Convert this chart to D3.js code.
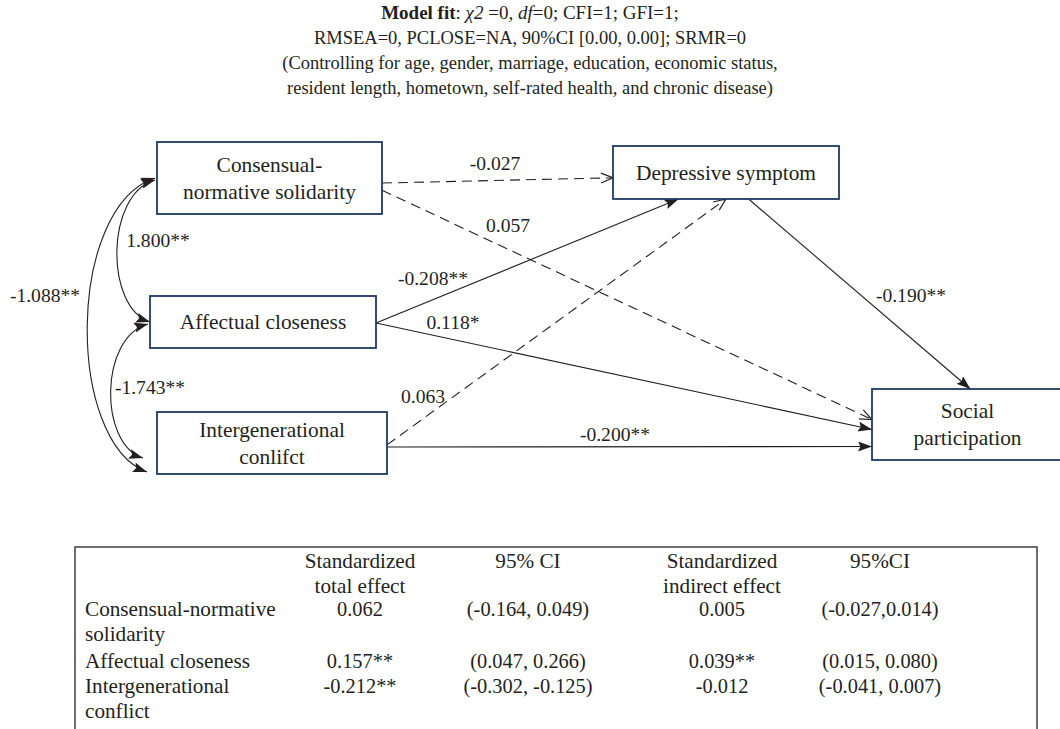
<!DOCTYPE html>
<html><head><meta charset="utf-8">
<script src="https://cdn.jsdelivr.net/npm/d3@7"></script>
<style>body{margin:0;background:#fff;overflow:hidden}</style>
</head><body>
<svg id="c" width="1060" height="729"></svg>
<script>
// ---------- DATA ----------
const titleLine2 = "RMSEA=0, PCLOSE=NA, 90%CI [0.00, 0.00]; SRMR=0";
const titleLine3 = "(Controlling for age, gender, marriage, education, economic status,";
const titleLine4 = "resident length, hometown, self-rated health, and chronic disease)";

const nodeIds = ["cns", "ac", "ic", "ds", "sp"];
const nodeLabels = [["Consensual-", "normative solidarity"], ["Affectual closeness"], ["Intergenerational", "conlifct"], ["Depressive symptom"], ["Social", "participation"]];

const pathFrom = ["cns", "cns", "ac", "ac", "ic", "ic", "ds"];
const pathTo   = ["ds", "sp", "ds", "sp", "ds", "sp", "sp"];
const pathCoef = ["-0.027", "0.057", "-0.208**", "0.118*", "0.063", "-0.200**", "-0.190**"];
const pathSig  = [false, false, true, true, false, true, true];

const covFrom = ["cns", "ac", "cns"];
const covTo   = ["ac", "ic", "ic"];
const covCoef = ["1.800**", "-1.743**", "-1.088**"];

const tableHead1 = ["", "Standardized", "95% CI", "Standardized", "95%CI"];
const tableHead2 = ["", "total effect", "", "indirect effect", ""];
const rowLabels = [["Consensual-normative", "solidarity"], ["Affectual closeness"], ["Intergenerational", "conflict"]];
const totalEffect = ["0.062", "0.157**", "-0.212**"];
const totalCI = ["(-0.164, 0.049)", "(0.047, 0.266)", "(-0.302, -0.125)"];
const indirectEffect = ["0.005", "0.039**", "-0.012"];
const indirectCI = ["(-0.027,0.014)", "(0.015, 0.080)", "(-0.041, 0.007)"];

// ---------- LAYOUT ----------
const FONT = "'Liberation Serif', 'Times New Roman', serif";
const FS_NODE = 21.4, FS_COEF = 19.6, FS_TXT = 21.2, FS_NUM = 20.4;
const INK = "#231f20";
const BOX = "#1f3a63";

const boxes = {
  cns: {x: 157, y: 142, w: 225, h: 72},
  ac:  {x: 150, y: 296, w: 226, h: 52},
  ic:  {x: 157, y: 412, w: 230, h: 62},
  ds:  {x: 613, y: 146, w: 226, h: 53},
  sp:  {x: 872, y: 389, w: 191, h: 71}
};
const pathAnchors = [
  [["r", 0.57], ["l", 0.60]],
  [["r", 0.67], ["l", 0.43]],
  [["r", 0.52], ["b", 0.29]],
  [["r", 0.52], ["l", 0.57]],
  [["r", 0.53], ["b", 0.50]],
  [["r", 0.565], ["l", 0.81]],
  [["b", 0.60], ["t", 0.515]]
];
const pathLabelPos = [[495, 163], [508, 225], [433, 278], [453, 322], [423, 396], [615, 434], [911, 295]];

const covGeom = [
  {a: [155, 180], b: [150, 322], cx: 105},
  {a: [148, 324], b: [143, 458], cx: 99},
  {a: [155, 178], b: [147, 472], cx: 66}
];
const covLabelPos = [[158, 240], [150, 387], [45, 295]];

const table = {x: 75, y: 547, w: 962, h: 220};
const colX = [85, 360, 528, 722, 880];
const rowY = {h1: 561, h2: 586, rows: [[609, 634], [661], [686, 711]]};

// ---------- DRAW ----------
const svg = d3.select("#c");
const defs = svg.append("defs");
defs.append("marker").attr("id", "fill").attr("markerUnits", "userSpaceOnUse")
  .attr("viewBox", "0 0 14 10").attr("refX", 14).attr("refY", 5)
  .attr("markerWidth", 14).attr("markerHeight", 10).attr("orient", "auto-start-reverse")
  .append("path").attr("d", "M0,0 L14,5 L0,10 L2.5,5 z").attr("fill", INK);
defs.append("marker").attr("id", "open").attr("markerUnits", "userSpaceOnUse")
  .attr("viewBox", "-1 -1 14 12").attr("refX", 12).attr("refY", 5)
  .attr("markerWidth", 14).attr("markerHeight", 12).attr("orient", "auto")
  .append("path").attr("d", "M0,0 L12,5 L0,10").attr("fill", "none")
  .attr("stroke", INK).attr("stroke-width", 1.2);

// title
const title = svg.append("g").attr("font-family", FONT).attr("font-size", 18.5)
  .attr("fill", INK).attr("text-anchor", "middle");
const t1 = title.append("text").attr("x", 530).attr("y", 19).attr("font-size", 19);
t1.append("tspan").attr("font-weight", "bold").text("Model fit");
t1.append("tspan").text(": ");
t1.append("tspan").attr("font-style", "italic").text("χ2");
t1.append("tspan").text(" =0, ");
t1.append("tspan").attr("font-style", "italic").text("df");
t1.append("tspan").text("=0; CFI=1; GFI=1;");
title.append("text").attr("x", 530).attr("y", 44).text(titleLine2);
title.append("text").attr("x", 530).attr("y", 69).text(titleLine3);
title.append("text").attr("x", 530).attr("y", 94).text(titleLine4);

function anchor(id, side, f) {
  const b = boxes[id];
  if (side === "r") return [b.x + b.w, b.y + f * b.h];
  if (side === "l") return [b.x, b.y + f * b.h];
  if (side === "t") return [b.x + f * b.w, b.y];
  return [b.x + f * b.w, b.y + b.h];
}

// paths
const paths = pathFrom.map((f, i) => ({
  s: anchor(f, ...pathAnchors[i][0]),
  e: anchor(pathTo[i], ...pathAnchors[i][1]),
  sig: pathSig[i], coef: pathCoef[i], lp: pathLabelPos[i]
}));
const line = d3.line();
svg.append("g").selectAll("path").data(paths).join("path")
  .attr("d", d => line([d.s, d.e]))
  .attr("fill", "none").attr("stroke", INK).attr("stroke-width", 1.1)
  .attr("stroke-dasharray", d => d.sig ? null : "10,6")
  .attr("marker-end", d => d.sig ? "url(#fill)" : "url(#open)");

// covariances
const covs = covFrom.map((f, i) => ({...covGeom[i], coef: covCoef[i], lp: covLabelPos[i]}));
svg.append("g").selectAll("path").data(covs).join("path")
  .attr("d", d => {
    const p = d3.path();
    const dy = d.b[1] - d.a[1];
    p.moveTo(d.a[0], d.a[1]);
    p.bezierCurveTo(d.cx, d.a[1] + dy * 0.1, d.cx, d.b[1] - dy * 0.1, d.b[0], d.b[1]);
    return p.toString();
  })
  .attr("fill", "none").attr("stroke", INK).attr("stroke-width", 1.1)
  .attr("marker-start", "url(#fill)").attr("marker-end", "url(#fill)");

// boxes
const nodes = nodeIds.map((id, i) => ({id, lines: nodeLabels[i], b: boxes[id]}));
const ng = svg.append("g").selectAll("g").data(nodes).join("g");
ng.append("rect").attr("x", d => d.b.x).attr("y", d => d.b.y)
  .attr("width", d => d.b.w).attr("height", d => d.b.h)
  .attr("fill", "#fff").attr("stroke", BOX).attr("stroke-width", 1.8);
ng.each(function(d) {
  const g = d3.select(this);
  const n = d.lines.length, lh = 27;
  d.lines.forEach((t, j) => {
    g.append("text").attr("x", d.b.x + d.b.w / 2)
      .attr("y", d.b.y + d.b.h / 2 + (j - (n - 1) / 2) * lh)
      .attr("dy", "0.34em").attr("text-anchor", "middle")
      .attr("font-family", FONT).attr("font-size", FS_NODE).attr("fill", INK).text(t);
  });
});

// coefficient labels
const labels = paths.map(d => ({t: d.coef, p: d.lp})).concat(covs.map(d => ({t: d.coef, p: d.lp})));
svg.append("g").selectAll("text").data(labels).join("text")
  .attr("x", d => d.p[0]).attr("y", d => d.p[1]).attr("dy", "0.34em")
  .attr("text-anchor", "middle").attr("font-family", FONT).attr("font-size", FS_COEF)
  .attr("fill", INK).text(d => d.t);

// table
const tg = svg.append("g").attr("font-family", FONT).attr("fill", INK);
tg.append("rect").attr("x", table.x).attr("y", table.y).attr("width", table.w).attr("height", table.h)
  .attr("fill", "none").attr("stroke", INK).attr("stroke-width", 1.3);
function cell(txt, ci, y, fs) {
  if (!txt) return;
  tg.append("text").attr("x", colX[ci]).attr("y", y).attr("dy", "0.34em")
    .attr("font-size", fs)
    .attr("text-anchor", ci === 0 ? "start" : "middle").text(txt);
}
tableHead1.forEach((t, i) => cell(t, i, rowY.h1, FS_TXT));
tableHead2.forEach((t, i) => cell(t, i, rowY.h2, FS_TXT));
rowLabels.forEach((lines, r) => {
  lines.forEach((t, j) => cell(t, 0, rowY.rows[r][j], FS_TXT));
  const y = rowY.rows[r][0];
  cell(totalEffect[r], 1, y, FS_NUM);
  cell(totalCI[r], 2, y, FS_NUM);
  cell(indirectEffect[r], 3, y, FS_NUM);
  cell(indirectCI[r], 4, y, FS_NUM);
});
</script>
</body></html>
